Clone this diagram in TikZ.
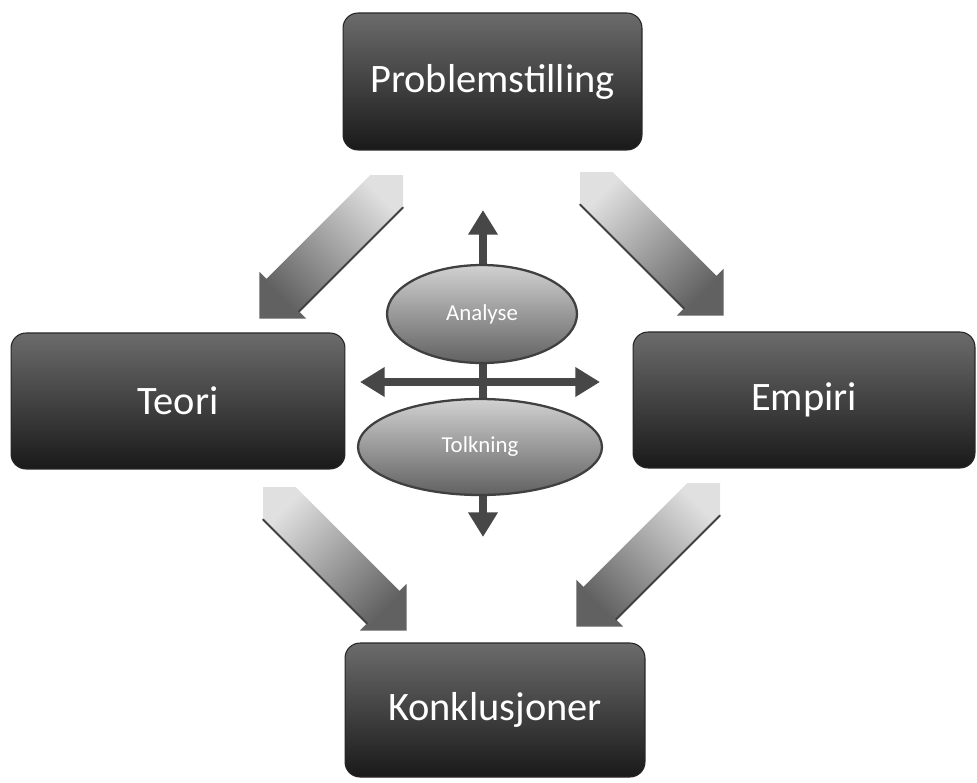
\documentclass[tikz,border=0pt]{standalone}
\usepackage{fontspec}
\setmainfont{Carlito}
\usetikzlibrary{arrows.meta,shapes.geometric}
\newcommand\blkarrow[4]{%
  \begin{scope}[shift={(#1)}, rotate=#2]
    \shade[top color=black!12, bottom color=black!62, shading angle=#3]
      (0,0) -- (23,23) -- (170,23) -- (170,33) -- (203,0) -- (170,-33) -- (170,-23) -- (23,-23) -- cycle;
    \draw[black!75, line width=1.1pt, line cap=round] (23,#4*23) -- (170,#4*23);
  \end{scope}}
\begin{document}
\begin{tikzpicture}[x=0.02cm, y=-0.02cm,
  box/.style={rectangle, rounded corners=0.3cm, text=white,
    font=\fontsize{23}{27}\selectfont, top color=black!58, bottom color=black!90,
    draw=black!85, line width=0.6pt},
  oval/.style={ellipse, text=white, font=\fontsize{13}{15}\selectfont,
    top color=black!18, bottom color=black!62, draw=black!75, line width=1.3pt},
  cross/.style={draw=black!72, line width=5pt,
    {Triangle[width=16pt,length=14pt]}-{Triangle[width=16pt,length=14pt]}}]
\useasboundingbox (0,0) rectangle (977,782);

% block arrows
\coordinate (tlt) at (403,175);
\coordinate (trt) at (580,172);
\coordinate (blt) at (263,487);
\coordinate (brt) at (720,483);
\blkarrow{tlt}{-135}{-45}{-1}
\blkarrow{trt}{-45}{45}{1}
\blkarrow{blt}{-45}{45}{1}
\blkarrow{brt}{-135}{-45}{-1}

% boxes
\node[box, minimum width=5.98cm, minimum height=2.74cm] (p) at (492.5,81.5) {Problemstilling};
\node[box, minimum width=6.68cm, minimum height=2.72cm] (t) at (178,401) {Teori};
\node[box, minimum width=6.84cm, minimum height=2.72cm] (e) at (804,400) {Empiri};
\node[box, minimum width=6cm, minimum height=2.68cm] (k) at (495,710) {Konklusjoner};

% central cross
\coordinate (vt) at (483,210);
\coordinate (vb) at (483,537);
\coordinate (hl) at (360,382);
\coordinate (hr) at (600,382);
\draw[cross] (vb) -- (vt);
\draw[cross] (hl) -- (hr);

% ellipses
\node[oval, minimum width=3.8cm, minimum height=1.96cm] (an) at (482,314) {Analyse};
\node[oval, minimum width=4.88cm, minimum height=1.92cm] (to) at (480,447) {Tolkning};
\end{tikzpicture}
\end{document}
